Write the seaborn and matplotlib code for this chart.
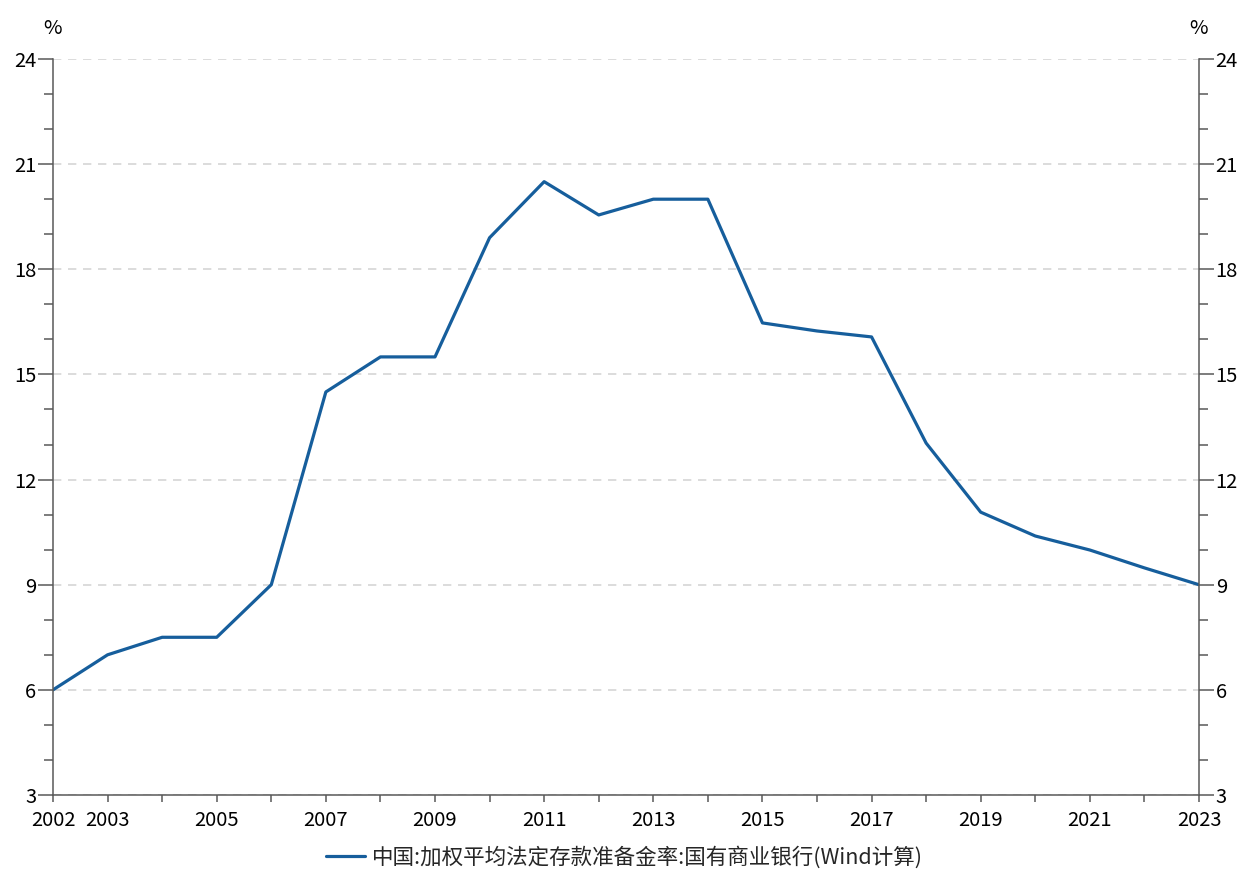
import matplotlib
matplotlib.use("Agg")
import matplotlib.pyplot as plt
import seaborn as sns
import pandas as pd
from matplotlib.ticker import MultipleLocator, FixedLocator

# datos
years = list(range(2002, 2024))
rates = [6.0, 7.0, 7.5, 7.5, 9.0, 14.5, 15.5, 15.5, 18.9, 20.5, 19.55,
         20.0, 20.0, 16.47, 16.24, 16.07, 13.04, 11.07, 10.39, 9.99, 9.48, 9.0]
serie = "中国:加权平均法定存款准备金率:国有商业银行(Wind计算)"
xticks_lbl = [2002, 2003, 2005, 2007, 2009, 2011, 2013, 2015, 2017, 2019, 2021, 2023]
yticks = [3, 6, 9, 12, 15, 18, 21, 24]

AZUL = "#165E9C"
GRIS = "#595959"

sns.set_theme(style="white")
plt.rcParams["font.family"] = ["Noto Sans CJK SC", "DejaVu Sans"]
plt.rcParams["axes.unicode_minus"] = False

df = pd.DataFrame({"year": years, "rate": rates})

fig = plt.figure(figsize=(12.49, 8.82), dpi=100)
ax = fig.add_axes([53 / 1249, 87 / 882, 1146 / 1249, 736 / 882])

sns.lineplot(data=df, x="year", y="rate", ax=ax, color=AZUL, linewidth=2.3, label=serie, legend=False)

ax.set_xlim(2002, 2023)
ax.set_ylim(3, 24)
ax.set_xlabel("")
ax.set_ylabel("")

ax.xaxis.set_major_locator(FixedLocator(xticks_lbl))
ax.xaxis.set_minor_locator(MultipleLocator(1))
ax.set_xticklabels([str(y) for y in xticks_lbl])
ax.yaxis.set_major_locator(FixedLocator(yticks))
ax.yaxis.set_minor_locator(MultipleLocator(1))

ax.grid(axis="y", which="major", color="#D6D6D6", linestyle=(0, (5, 4)), linewidth=1.2)
ax.set_axisbelow(True)

for s in ["left", "bottom"]:
    ax.spines[s].set_color(GRIS)
    ax.spines[s].set_linewidth(1.1)
for s in ["top", "right"]:
    ax.spines[s].set_visible(False)

ax.tick_params(axis="x", which="both", direction="out", length=5, width=1.1,
               color=GRIS, labelsize=14.5, labelcolor="black", pad=6, bottom=True)
ax.tick_params(axis="y", which="major", direction="out", length=11, width=1.1,
               color=GRIS, labelsize=14.5, labelcolor="black", pad=1, left=True)
ax.tick_params(axis="y", which="minor", direction="out", length=6.5, width=1.1,
               color=GRIS, left=True)

# eje derecho
ax2 = ax.twinx()
ax2.set_ylim(3, 24)
ax2.yaxis.set_major_locator(FixedLocator(yticks))
ax2.yaxis.set_minor_locator(MultipleLocator(1))
ax2.grid(False)
for s in ["left", "bottom", "top"]:
    ax2.spines[s].set_visible(False)
ax2.spines["right"].set_color(GRIS)
ax2.spines["right"].set_linewidth(1.1)
ax2.tick_params(axis="y", which="major", direction="out", length=11, width=1.1,
                color=GRIS, labelsize=14.5, labelcolor="black", pad=1, right=True)
ax2.tick_params(axis="y", which="minor", direction="out", length=6.5, width=1.1,
                color=GRIS, right=True)

# unidades
fig.text(53 / 1249, 1 - 28 / 882, "%", ha="center", va="center", fontsize=14.5, color="black")
fig.text(1199 / 1249, 1 - 28 / 882, "%", ha="center", va="center", fontsize=14.5, color="black")

# leyenda
h, l = ax.get_legend_handles_labels()
fig.legend(h, l, loc="center", bbox_to_anchor=(0.5, 25 / 882), frameon=False,
           fontsize=15.5, handlelength=1.8, handletextpad=0.3)

fig.savefig("out.png", dpi=100, facecolor="white")
